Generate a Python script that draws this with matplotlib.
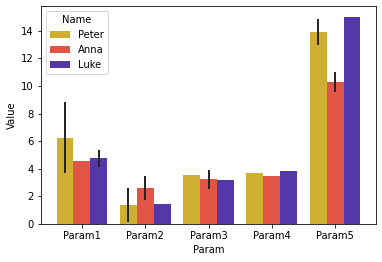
import matplotlib
matplotlib.use("Agg")
import matplotlib.pyplot as plt
import numpy as np

params = ["Param1", "Param2", "Param3", "Param4", "Param5"]
names = ["Peter", "Anna", "Luke"]
peter = [6.26, 1.38, 3.55, 3.70, 13.92]
anna = [4.57, 2.61, 3.26, 3.48, 10.30]
luke = [4.79, 1.45, 3.19, 3.84, 15.01]
peter_lo = [3.72, 0.17, None, 3.68, 13.00]
peter_hi = [8.83, 2.59, None, 3.72, 14.87]
anna_lo = [None, 1.74, 2.54, None, 9.59]
anna_hi = [None, 3.48, 3.92, None, 11.04]
luke_lo = [4.16, None, None, None, None]
luke_hi = [5.34, None, None, None, None]
colors = ["#CFAF32", "#E25544", "#5538A8"]

fig = plt.figure(figsize=(382/72, 262/72), dpi=72)
ax = fig.add_axes([41/382, 38/262, 335/382, 218/262])

values = [peter, anna, luke]
los = [peter_lo, anna_lo, luke_lo]
his = [peter_hi, anna_hi, luke_hi]
x = np.arange(len(params))
w = 0.8 / 3
for i, (nm, vals, lo, hi, c) in enumerate(zip(names, values, los, his, colors)):
    pos = x - 0.4 + w * (i + 0.5)
    ax.bar(pos, vals, width=w, color=c, label=nm)
    for p, l, h in zip(pos, lo, hi):
        if l is not None:
            ax.plot([p, p], [l, h], color=".15", lw=2.0, solid_capstyle="butt")

ax.set_xticks(x)
ax.set_xticklabels(params)
ax.set_xlim(-0.645, 4.645)
ax.set_ylim(0, 15.8)
ax.set_xlabel("Param")
ax.set_ylabel("Value")
ax.legend(title="Name", loc="upper left")
fig.savefig("out.png", dpi=72)
